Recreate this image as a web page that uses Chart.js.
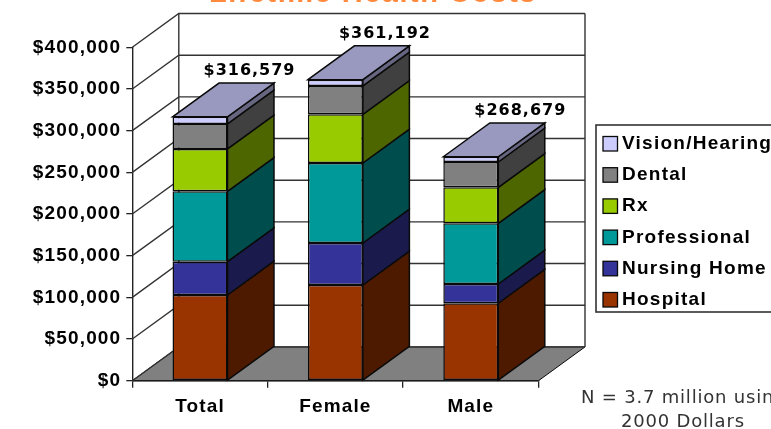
<!DOCTYPE html>
<html><head><meta charset="utf-8">
<style>html,body{margin:0;padding:0;background:#fff;overflow:hidden}#w{width:771px;height:429px}canvas{display:block;filter:blur(0.35px)}</style>
<script src="https://cdn.jsdelivr.net/npm/chart.js@4/dist/chart.umd.min.js"></script>
</head><body><div id="w"><canvas id="c" width="771" height="429"></canvas></div>
<script>
const categories = ["Total","Female","Male"];
const hospital = [102800,114800,92900];
const nursingHome = [40000,50400,23100];
const professional = [84400,96000,72800];
const rx = [50900,58400,43200];
const dental = [30000,34000,30400];
const vision = [8479,7592,6279];
const totals = ["$316,579","$361,192","$268,679"];
const yTicks = [0,50000,100000,150000,200000,250000,300000,350000,400000];
const seriesNames = ["Hospital","Nursing Home","Professional","Rx","Dental","Vision/Hearing"];
const frontColors = ["#993300","#333399","#009999","#99CC00","#808080","#CCCCFF"];
const sideColors = ["#4D1A00","#1A1A4D","#004D4D","#4D6600","#404040","#666680"];
const topColor = "#9999BF";
const seriesValues = [hospital,nursingHome,professional,rx,dental,vision];
const titleText = "Lifetime Health Costs";
const noteLines = ["N = 3.7 million using","2000 Dollars"];

const DX = 46.5, DY = -33.8, INK = "#0a0a0a";
function poly(ctx, pts, fill, stroke, lw){
  ctx.beginPath(); pts.forEach((p,i)=> i?ctx.lineTo(p[0],p[1]):ctx.moveTo(p[0],p[1])); ctx.closePath();
  if(fill){ctx.fillStyle=fill;ctx.fill();}
  if(stroke){ctx.strokeStyle=stroke;ctx.lineWidth=lw||1.5;ctx.stroke();}
}
const box3d = {
  id:"box3d",
  beforeDatasetsDraw(chart){
    const ctx=chart.ctx, a=chart.chartArea, y=chart.scales.y;
    ctx.save();
    poly(ctx,[[a.left,a.bottom],[a.left+DX,a.bottom+DY],[a.right+DX,a.bottom+DY],[a.right,a.bottom]],"#808080",INK,1);
    ctx.strokeStyle="#333"; ctx.lineWidth=1.4;
    yTicks.forEach(v=>{
      const p=y.getPixelForValue(v);
      ctx.beginPath();
      ctx.moveTo(a.left,p); ctx.lineTo(a.left+DX,p+DY); ctx.lineTo(a.right+DX,p+DY);
      ctx.stroke();
    });
    ctx.beginPath();
    ctx.moveTo(a.left+DX,a.bottom+DY); ctx.lineTo(a.left+DX,a.top+DY);
    ctx.moveTo(a.right+DX,a.bottom+DY); ctx.lineTo(a.right+DX,a.top+DY);
    ctx.stroke();
    chart.data.datasets.forEach((ds,i)=>{
      chart.getDatasetMeta(i).data.forEach(b=>{
        const r=b.x+b.width/2, l=b.x-b.width/2;
        poly(ctx,[[r,b.base],[r+DX,b.base+DY],[r+DX,b.y+DY],[r,b.y]],sideColors[i],INK);
        if(i===chart.data.datasets.length-1)
          poly(ctx,[[l,b.y],[l+DX,b.y+DY],[r+DX,b.y+DY],[r,b.y]],topColor,INK);
      });
    });
    ctx.restore();
  },
  afterDraw(chart){
    const ctx=chart.ctx, n=chart.data.datasets.length;
    ctx.save();
    ctx.fillStyle="#000"; ctx.textAlign="center"; ctx.textBaseline="alphabetic";
    ctx.font="bold 16px 'DejaVu Sans'"; ctx.letterSpacing="1px";
    chart.getDatasetMeta(n-1).data.forEach((b,j)=>{ ctx.fillText(totals[j],b.x+49.5,b.y-41.5); });
    ctx.letterSpacing="1.5px"; ctx.font="bold 29px 'Liberation Sans'"; ctx.fillStyle="#FF8A3D";
    ctx.fillText(titleText,373,2);
    const LX=596, LY=125, LW=190, LH=187;
    ctx.fillStyle="#fff"; ctx.strokeStyle="#333"; ctx.lineWidth=1.6;
    ctx.fillRect(LX,LY,LW,LH); ctx.strokeRect(LX,LY,LW,LH);
    ctx.textAlign="left"; ctx.font="bold 19px 'Liberation Sans'"; ctx.letterSpacing="1.25px";
    for(let i=n-1,row=0;i>=0;i--,row++){
      const cy=LY+18.5+row*31.2;
      ctx.fillStyle=frontColors[i]; ctx.strokeStyle=INK; ctx.lineWidth=1.3;
      ctx.fillRect(603,cy-7,14.5,14.5); ctx.strokeRect(603,cy-7,14.5,14.5);
      ctx.fillStyle="#000"; ctx.fillText(seriesNames[i],622,cy+5.5);
    }
    ctx.font="18px 'DejaVu Sans'"; ctx.letterSpacing="0.8px"; ctx.fillStyle="#333";
    ctx.fillText(noteLines[0],581,403); ctx.fillText(noteLines[1],621,427);
    ctx.restore();
  }
};
const tickFont={family:"'Liberation Sans'",size:19,weight:"bold"};
new Chart(document.getElementById("c"),{
  type:"bar",
  data:{labels:categories,datasets:seriesNames.map((label,i)=>({
    label,data:seriesValues[i],backgroundColor:frontColors[i],borderColor:INK,borderWidth:1.5,borderSkipped:false,
    barPercentage:0.406,categoryPercentage:1
  }))},
  plugins:[{id:"spacing",beforeDraw(c){c.ctx.letterSpacing="1.15px";}},box3d],
  options:{
    responsive:false,animation:false,
    layout:{padding:{top:47.3,right:232.5,left:0,bottom:0}},
    plugins:{legend:{display:false},title:{display:false},tooltip:{enabled:false}},
    scales:{
      x:{stacked:true,
        afterFit(s){s.height=48.3;},
        grid:{drawOnChartArea:false,tickLength:7,color:"#222",lineWidth:1.3},
        border:{color:"#222",width:1.4},
        ticks:{color:"#000",font:tickFont,padding:8}},
      y:{stacked:true,min:0,max:400000,
        afterFit(s){s.width=132.3;},
        afterBuildTicks(s){s.ticks=yTicks.map(value=>({value}));},
        grid:{drawOnChartArea:false,tickLength:6,color:"#222",lineWidth:1.3},
        border:{color:"#222",width:1.4},
        ticks:{color:"#000",font:tickFont,padding:5,callback:v=>"$"+v.toLocaleString("en-US")}}
    }
  }
});
</script></body></html>
